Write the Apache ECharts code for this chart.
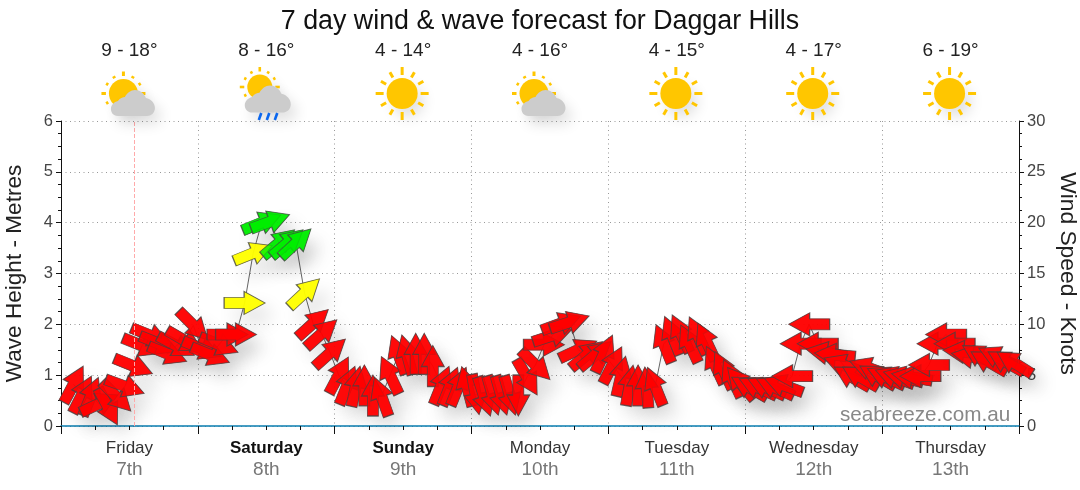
<!DOCTYPE html>
<html><head><meta charset="utf-8">
<script src="https://cdn.jsdelivr.net/npm/echarts@6/dist/echarts.min.js"></script>
<style>html,body{margin:0;padding:0;background:#fff}#c{width:1080px;height:490px}</style>
</head><body><div id="c"></div>
<script>
var dayNames = ['Friday','Saturday','Sunday','Monday','Tuesday','Wednesday','Thursday'];
var dayNums = ['7th','8th','9th','10th','11th','12th','13th'];
var tempRanges = ['9 - 18°','8 - 16°','4 - 14°','4 - 16°','4 - 15°','4 - 17°','6 - 19°'];
var weatherHours = [12,36,60,84,108,132,156];
var weatherKinds = ['partly','rain','sun','partly','sun','sun','sun'];
var hours = [2.2,3.7,5.2,6.7,8.2,9.7,11.2,12.7,14.2,15.7,17.2,18.7,20.2,21.7,23.2,24.7,26.2,27.7,29.2,30.7,
32.2,33.7,35.2,36.7,38.2,39.7,41.2,42.7,44.2,45.7,47.2,48.7,50.2,51.7,53.2,54.7,56.2,57.7,59.2,60.7,
62.2,63.7,65.2,66.7,68.2,69.7,71.2,72.7,74.2,75.7,77.2,78.7,80.2,81.7,83.2,84.7,86.2,87.7,89.2,90.7,
92.2,93.7,95.2,96.7,98.2,99.7,101.2,102.7,104.2,105.7,107.2,108.7,110.2,111.7,113.2,114.7,116.2,117.7,119.2,120.7,
122.2,123.7,125.2,126.7,128.2,129.7,131.2,132.7,134.2,135.7,137.2,138.7,140.2,141.7,143.2,144.7,146.2,147.7,149.2,150.7,
152.2,153.7,155.2,156.7,158.2,159.7,161.2,162.7,164.2,165.7,167.2];
var windKnots = [4.1,3.1,2.9,2.2,1.9,2.9,3.9,5.9,7.9,8.9,8.1,7.1,7.9,8.4,9.9,7.6,7.0,8.0,9.0,9.0,
12.1,17.0,20.0,20.1,18.0,18.0,18.0,13.1,10.1,9.1,7.2,5.0,4.0,3.9,4.0,3.0,2.9,5.0,7.0,7.0,
7.1,7.1,5.9,4.0,3.9,3.9,3.9,3.1,2.9,3.0,3.0,3.0,3.0,4.8,6.0,8.0,8.9,10.1,10.2,7.5,
7.0,7.0,7.1,6.0,4.9,4.0,4.0,3.8,3.9,8.1,8.9,9.1,8.1,8.9,8.3,6.0,5.5,4.7,4.2,3.8,
3.8,3.8,3.8,4.0,4.9,8.1,10.0,8.1,7.2,7.0,6.0,4.8,4.8,5.7,4.9,4.8,4.8,4.8,4.8,4.9,
6.0,8.1,9.0,8.1,7.3,6.8,6.9,6.3,6.8,6.3,6.2];
var headings = [62,63,68,25,-62,-45,-20,-22,-22,-22,-22,-22,-28,-30,-45,-22,-22,-22,0,0,
0,22,22,20,40,40,43,43,42,42,42,62,68,78,90,90,110,115,110,105,
90,90,90,68,68,68,105,-80,-72,-74,-74,-74,-90,-60,-45,0,18,20,18,25,
40,40,65,63,77,80,90,95,112,112,112,115,115,115,115,115,115,115,130,150,
155,155,155,160,180,180,180,180,170,175,160,150,150,160,150,155,160,165,170,180,
180,180,180,180,175,170,150,150,155,150,148];

var ARROW = 'path://M0,6L20,6L20,0L41,11.5L20,23L20,17L0,17Z';
function colourFor(k){ return k >= 17.5 ? '#00ee00' : (k >= 11 ? '#ffff00' : '#ff0000'); }
var points = hours.map(function(h,i){ return [h, windKnots[i], headings[i]]; });
function arrowSeries(withShadow){
  return {
    type:'scatter', xAxisIndex:0, yAxisIndex:1, symbol:ARROW, symbolSize:[41,23],
    symbolRotate:function(v){ return v[2]; }, data:points, silent:true, clip:false,
    z: withShadow ? 3 : 4,
    itemStyle: withShadow ? {
      color:function(p){ return colourFor(p.value[1]); }, borderWidth:0,
      shadowBlur:18, shadowOffsetX:10, shadowOffsetY:12, shadowColor:'rgba(0,0,0,0.16)'
    } : { color:function(p){ return colourFor(p.value[1]); }, borderColor:'#444', borderWidth:1 }
  };
}
var SOFT={shadowBlur:14,shadowOffsetX:6,shadowOffsetY:8,shadowColor:'rgba(0,0,0,0.12)'};
function sun(cx,cy,r,inner,outer,w){
  var kids=[{type:'circle',shape:{cx:cx,cy:cy,r:r},style:Object.assign({fill:'#ffc600'},SOFT)}];
  for(var a=0;a<12;a++){
    var t=a*Math.PI/6, c=Math.cos(t), s=Math.sin(t), o=(a%3===0)?outer:outer-2;
    kids.push({type:'line',shape:{x1:cx+c*inner,y1:cy+s*inner,x2:cx+c*o,y2:cy+s*o},
      style:{stroke:'#ffc600',lineWidth:w}});
  }
  return kids;
}
function cloud(cx,cy,w,h){
  return {type:'path',
    shape:{pathData:'M7,26C2,26 0,22 0,19C0,15 3,12 7,11C9,8 12,7 14,7C16,3 20,0 24,0C29,0 33,3 35,8C40,9 44,13 44,18C44,23 40,26 36,26Z',
      x:cx-w/2,y:cy-h/2,width:w,height:h},
    style:Object.assign({fill:'#cccccc'},SOFT)};
}
function renderIcon(params,api){
  var x=api.coord([api.value(0),0])[0], y=params.coordSys.y-27.5, kind=weatherKinds[params.dataIndex], kids;
  if(kind==='sun'){ kids=sun(x-1,y,15.5,18.5,26.5,3); }
  else if(kind==='partly'){ kids=sun(x-6,y,14.5,17.5,22,3).concat([cloud(x+3.5,y+9.5,44,26)]); }
  else {
    kids=sun(x-6.5,y-6.5,12.5,15.5,20,2.6).concat([cloud(x+1.5,y+5.5,46,28)]);
    for(var i=0;i<3;i++){ kids.push({type:'line',shape:{x1:x-5+i*8,y1:y+19.5,x2:x-7.5+i*8,y2:y+26.5},style:{stroke:'#0a66ee',lineWidth:2.6}}); }
  }
  return {type:'group',children:kids};
}
var chart = echarts.init(document.getElementById('c'),null,{renderer:'canvas'});
var FONT='"Liberation Sans",Arial,sans-serif';
var DOTS={type:[1,3.5],color:'#999',width:1};
chart.setOption({
  animation:false, backgroundColor:'#fff',
  textStyle:{fontFamily:FONT},
  title:[
    {text:'7 day wind & wave forecast for Daggar Hills',left:'center',top:3,textStyle:{fontSize:26.8,fontWeight:'normal',color:'#111',fontFamily:FONT}},
    {text:'seabreeze.com.au',left:835,top:400,textStyle:{fontSize:20.7,fontWeight:'normal',color:'#888',fontFamily:FONT}}
  ],
  grid:{left:61,right:61,top:121,bottom:64,outerBoundsMode:'none',containLabel:false},
  xAxis:[
    {type:'value',min:0,max:168,interval:24,position:'bottom',
     axisLine:{show:true,onZero:false,lineStyle:{color:'#0a7db0',width:1.5}},
     axisTick:{show:true,length:8,lineStyle:{color:'#111',width:1}},
     minorTick:{show:true,splitNumber:4,length:4,lineStyle:{color:'#111'}},
     axisLabel:{show:false},
     splitLine:{show:true,lineStyle:DOTS}},
    {type:'category',data:dayNames,position:'bottom',boundaryGap:true,
     axisLine:{show:false},axisTick:{show:false},splitLine:{show:false},
     axisLabel:{margin:11,interval:0,lineHeight:22,
       formatter:function(v,i){ var w=(i===1||i===2)?'w':'a'; return '{'+w+'|'+v+'}\n{b|'+dayNums[i]+'}'; },
       rich:{a:{fontSize:17,color:'#333',lineHeight:22,fontFamily:FONT},
             w:{fontSize:17,color:'#111',fontWeight:'bold',lineHeight:22,fontFamily:FONT},
             b:{fontSize:19,color:'#777',lineHeight:22,fontFamily:FONT}}}},
    {type:'category',data:tempRanges,position:'top',boundaryGap:true,
     axisLine:{show:false},axisTick:{show:false},splitLine:{show:false},
     axisLabel:{margin:61,interval:0,fontSize:19,color:'#222',fontFamily:FONT}}
  ],
  yAxis:[
    {type:'value',min:0,max:6,interval:1,position:'left',name:'Wave Height - Metres',nameLocation:'middle',nameGap:35,nameRotate:90,
     nameTextStyle:{fontSize:22.6,color:'#222',fontFamily:FONT},
     axisLine:{show:true,lineStyle:{color:'#111'}},
     axisTick:{show:true,length:5,lineStyle:{color:'#111'}},
     minorTick:{show:true,splitNumber:4,length:3,lineStyle:{color:'#111'}},
     axisLabel:{fontSize:16.5,color:'#444',margin:8,padding:[4,0,0,0],fontFamily:FONT},
     splitLine:{show:true,lineStyle:DOTS}},
    {type:'value',min:0,max:30,interval:5,position:'right',name:'Wind Speed - Knots',nameLocation:'middle',nameGap:35,nameRotate:-90,
     nameTextStyle:{fontSize:22.8,color:'#222',fontFamily:FONT},
     axisLine:{show:true,lineStyle:{color:'#111'}},
     axisTick:{show:true,length:5,lineStyle:{color:'#111'}},
     minorTick:{show:true,splitNumber:4,length:3,lineStyle:{color:'#111'}},
     axisLabel:{fontSize:16.5,color:'#444',margin:8,padding:[4,0,0,0],fontFamily:FONT},
     splitLine:{show:false}}
  ],
  series:[
    {type:'line',xAxisIndex:0,yAxisIndex:1,data:points.map(function(p){return [p[0],p[1]];}),showSymbol:false,silent:true,z:2,
     lineStyle:{color:'#666',width:1},
     markLine:{silent:true,symbol:'none',label:{show:false},data:[{xAxis:12.8}],lineStyle:{color:'#ffaaaa',type:'dashed',width:1}}},
    arrowSeries(true),
    arrowSeries(false),
    {type:'custom',xAxisIndex:0,yAxisIndex:0,clip:false,silent:true,z:5,renderItem:renderIcon,
     data:weatherHours.map(function(h){return [h,0];})}
  ]
});
</script></body></html>
